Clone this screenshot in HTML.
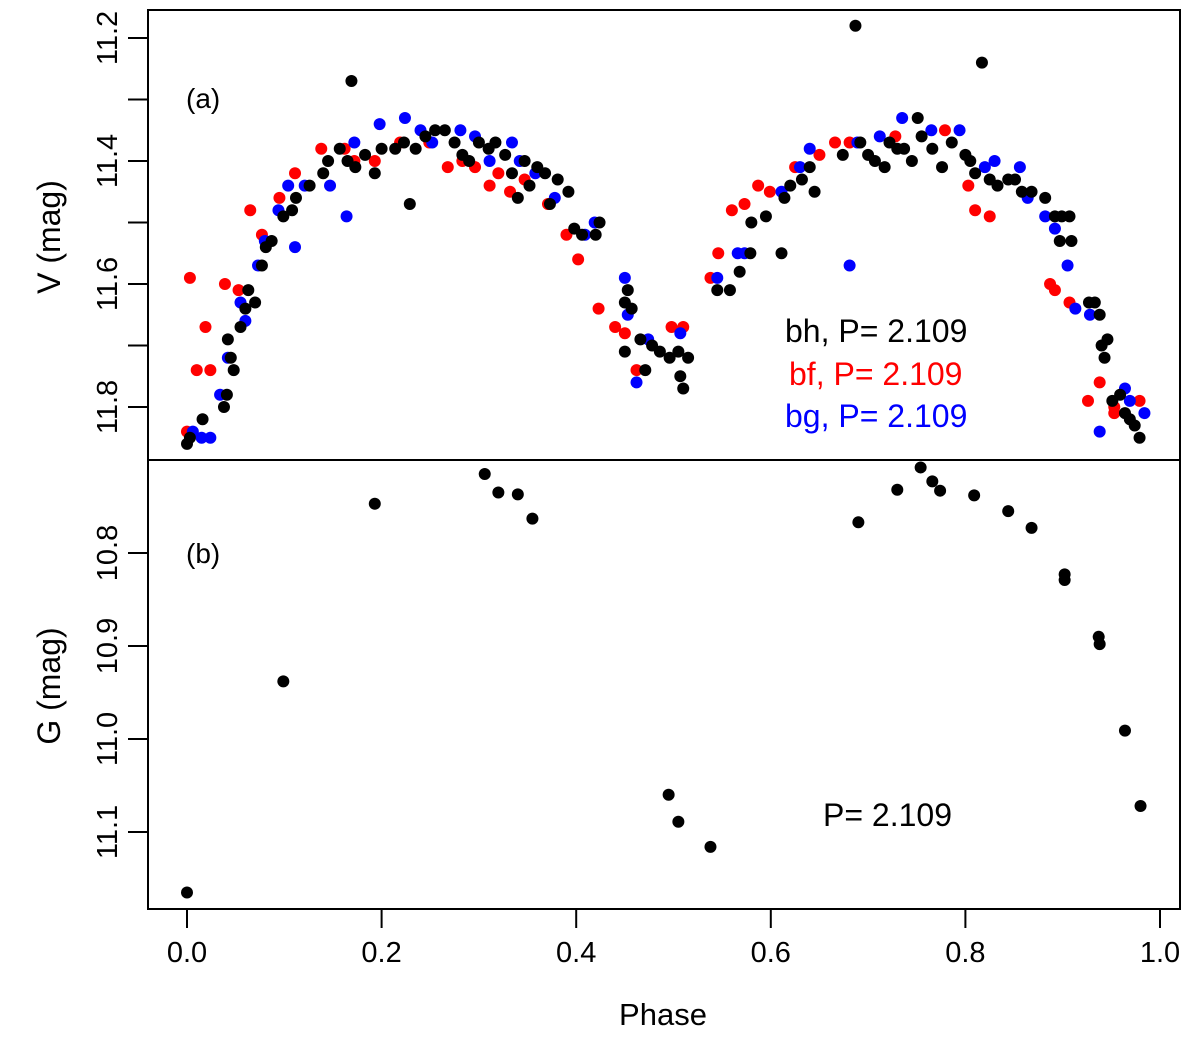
<!DOCTYPE html>
<html><head><meta charset="utf-8"><style>
html,body{margin:0;padding:0;background:#fff}
svg{display:block;font-family:"Liberation Sans",Arial,sans-serif}
</style></head><body>
<svg id="chart" width="1200" height="1039" viewBox="0 0 1200 1039"></svg>
<script>
const blackPts=[[0.0,11.86],[0.003,11.85],[0.016,11.82],[0.038,11.80],[0.041,11.78],[0.045,11.72],[0.042,11.69],[0.048,11.74],[0.055,11.67],[0.06,11.64],[0.063,11.61],[0.07,11.63],[0.077,11.57],[0.081,11.54],[0.087,11.53],[0.099,11.49],[0.108,11.48],[0.112,11.46],[0.126,11.44],[0.14,11.42],[0.145,11.40],[0.157,11.38],[0.165,11.40],[0.169,11.27],[0.173,11.41],[0.183,11.39],[0.193,11.42],[0.2,11.38],[0.214,11.38],[0.223,11.37],[0.229,11.47],[0.235,11.38],[0.245,11.36],[0.255,11.35],[0.265,11.35],[0.275,11.37],[0.283,11.39],[0.29,11.40],[0.30,11.37],[0.31,11.38],[0.317,11.37],[0.327,11.39],[0.334,11.42],[0.34,11.46],[0.347,11.40],[0.352,11.44],[0.36,11.41],[0.368,11.42],[0.373,11.47],[0.381,11.43],[0.392,11.45],[0.398,11.51],[0.406,11.52],[0.42,11.52],[0.424,11.50],[0.453,11.61],[0.45,11.63],[0.457,11.64],[0.45,11.71],[0.466,11.69],[0.471,11.74],[0.478,11.70],[0.486,11.71],[0.496,11.72],[0.505,11.71],[0.507,11.75],[0.51,11.77],[0.515,11.72],[0.545,11.61],[0.558,11.61],[0.568,11.58],[0.579,11.55],[0.58,11.50],[0.595,11.49],[0.611,11.55],[0.614,11.46],[0.62,11.44],[0.632,11.43],[0.645,11.45],[0.64,11.41],[0.674,11.39],[0.687,11.18],[0.692,11.37],[0.70,11.39],[0.707,11.40],[0.717,11.41],[0.722,11.37],[0.73,11.38],[0.737,11.38],[0.745,11.40],[0.751,11.33],[0.755,11.36],[0.766,11.38],[0.776,11.41],[0.786,11.37],[0.80,11.39],[0.805,11.40],[0.81,11.42],[0.817,11.24],[0.825,11.43],[0.833,11.44],[0.844,11.43],[0.851,11.43],[0.858,11.45],[0.868,11.45],[0.882,11.46],[0.892,11.49],[0.899,11.49],[0.907,11.49],[0.897,11.53],[0.909,11.53],[0.927,11.63],[0.933,11.63],[0.938,11.65],[0.94,11.70],[0.946,11.69],[0.943,11.72],[0.951,11.79],[0.959,11.78],[0.964,11.81],[0.969,11.82],[0.974,11.83],[0.979,11.85]];
const redPts=[[0.0,11.84],[0.003,11.59],[0.01,11.74],[0.019,11.67],[0.024,11.74],[0.039,11.60],[0.053,11.61],[0.065,11.48],[0.077,11.52],[0.095,11.46],[0.111,11.42],[0.138,11.38],[0.162,11.38],[0.172,11.40],[0.193,11.40],[0.219,11.37],[0.249,11.37],[0.268,11.41],[0.283,11.40],[0.296,11.41],[0.311,11.44],[0.32,11.42],[0.332,11.45],[0.347,11.43],[0.371,11.47],[0.39,11.52],[0.402,11.56],[0.423,11.64],[0.44,11.67],[0.45,11.68],[0.462,11.74],[0.498,11.67],[0.51,11.67],[0.538,11.59],[0.546,11.55],[0.56,11.48],[0.573,11.47],[0.587,11.44],[0.599,11.45],[0.625,11.41],[0.65,11.39],[0.666,11.37],[0.681,11.37],[0.728,11.36],[0.779,11.35],[0.803,11.44],[0.81,11.48],[0.825,11.49],[0.887,11.60],[0.892,11.61],[0.907,11.63],[0.926,11.79],[0.938,11.76],[0.953,11.80],[0.979,11.79],[0.953,11.81]];
const bluePts=[[0.006,11.84],[0.015,11.85],[0.024,11.85],[0.034,11.78],[0.042,11.72],[0.055,11.63],[0.06,11.66],[0.073,11.57],[0.08,11.53],[0.094,11.48],[0.104,11.44],[0.111,11.54],[0.121,11.44],[0.147,11.44],[0.164,11.49],[0.172,11.37],[0.198,11.34],[0.224,11.33],[0.24,11.35],[0.252,11.37],[0.281,11.35],[0.296,11.36],[0.311,11.40],[0.334,11.37],[0.342,11.40],[0.358,11.42],[0.378,11.46],[0.409,11.52],[0.419,11.50],[0.45,11.59],[0.453,11.65],[0.462,11.76],[0.474,11.69],[0.507,11.68],[0.545,11.59],[0.566,11.55],[0.573,11.55],[0.611,11.45],[0.63,11.41],[0.64,11.38],[0.681,11.57],[0.689,11.37],[0.712,11.36],[0.735,11.33],[0.765,11.35],[0.794,11.35],[0.82,11.41],[0.83,11.40],[0.856,11.41],[0.864,11.46],[0.882,11.49],[0.892,11.51],[0.905,11.57],[0.913,11.64],[0.928,11.65],[0.938,11.84],[0.964,11.77],[0.969,11.79],[0.984,11.81]];
const gPts=[[0,11.165],[0.099,10.938],[0.193,10.747],[0.306,10.715],[0.32,10.735],[0.34,10.737],[0.355,10.763],[0.495,11.06],[0.505,11.089],[0.538,11.116],[0.69,10.767],[0.73,10.732],[0.754,10.708],[0.766,10.723],[0.774,10.733],[0.809,10.738],[0.844,10.755],[0.868,10.773],[0.902,10.823],[0.902,10.829],[0.937,10.89],[0.938,10.898],[0.964,10.991],[0.98,11.072]];
const xTicks=[0.0,0.2,0.4,0.6,0.8,1.0];
const vTicks=[11.2,11.3,11.4,11.5,11.6,11.7,11.8];
const vLabels=["11.2","","11.4","","11.6","","11.8"];
const gTicks=[10.8,10.9,11.0,11.1];
const gLabels=["10.8","10.9","11.0","11.1"];

const NS="http://www.w3.org/2000/svg";
const svg=document.getElementById('chart');
function mk(tag,attrs,parent){const e=document.createElementNS(NS,tag);for(const k in attrs)e.setAttribute(k,attrs[k]);(parent||svg).appendChild(e);return e;}
const X=p=>187+p*973;
const YV=m=>38+(m-11.2)*615;
const YG=m=>553+(m-10.8)*930;

let f1=mk('rect',{x:148,y:10,width:1032,height:450,fill:'none',stroke:'#000','stroke-width':2});


let f2=mk('rect',{x:148,y:460,width:1032,height:449,fill:'none',stroke:'#000','stroke-width':2});



function dots(arr,fy,color,name){
  const g=mk('g',{});
  
  
  arr.forEach(d=>{const c=mk('circle',{cx:X(d[0]),cy:fy(d[1]),r:6,fill:color},g);
    
    });
}
dots(redPts,YV,'#ff0000','bf-series');
dots(bluePts,YV,'#0000ff','bg-series');
dots(blackPts,YV,'#000','bh-series');
dots(gPts,YG,'#000','g-series');

function yaxis(ticks,labels,fy,name){
  const g=mk('g',{});
  
  
  ticks.forEach((t,i)=>{const y=fy(t);
    mk('line',{x1:128,x2:148,y1:y,y2:y,stroke:'#000','stroke-width':2},g);
    if(labels[i]){const tx=mk('text',{x:0,y:0,transform:`translate(117,${y}) rotate(-90)`,'text-anchor':'middle','font-size':29},g);tx.textContent=labels[i];
      
      }
  });
}
yaxis(vTicks,vLabels,YV,'v-axis');
yaxis(gTicks,gLabels,YG,'g-axis');

const gx=mk('g',{});


xTicks.forEach(t=>{const x=X(t);
  mk('line',{x1:x,x2:x,y1:909,y2:928,stroke:'#000','stroke-width':2},gx);
  const tx=mk('text',{x:x,y:962,'text-anchor':'middle','font-size':29},gx);tx.textContent=t.toFixed(1);
  
  
});

function txt(s,x,y,size,fill,name,anchor,rot){
  const t=mk('text',{x:x,y:y,'font-size':size,fill:fill,'text-anchor':anchor||'start'});
  if(rot)t.setAttribute('transform',`rotate(-90 ${x} ${y})`);
  t.textContent=s;
  
  
}
txt('Phase',663,1025,31,'#000','x-axis-title','middle');
txt('V (mag)',60,237,32,'#000','v-axis-title','middle',true);
txt('G (mag)',60,686,32,'#000','g-axis-title','middle',true);
txt('(a)',186,108,28,'#000','panel-a-label');
txt('(b)',186,563,28,'#000','panel-b-label');
txt('bh, P= 2.109',785,342,32,'#000','legend-bh');
txt('bf, P= 2.109',789,385,32,'#ff0000','legend-bf');
txt('bg, P= 2.109',785,427,32,'#0000ff','legend-bg');
txt('P= 2.109',823,826,32,'#000','period-label-b');
</script>
</body></html>
